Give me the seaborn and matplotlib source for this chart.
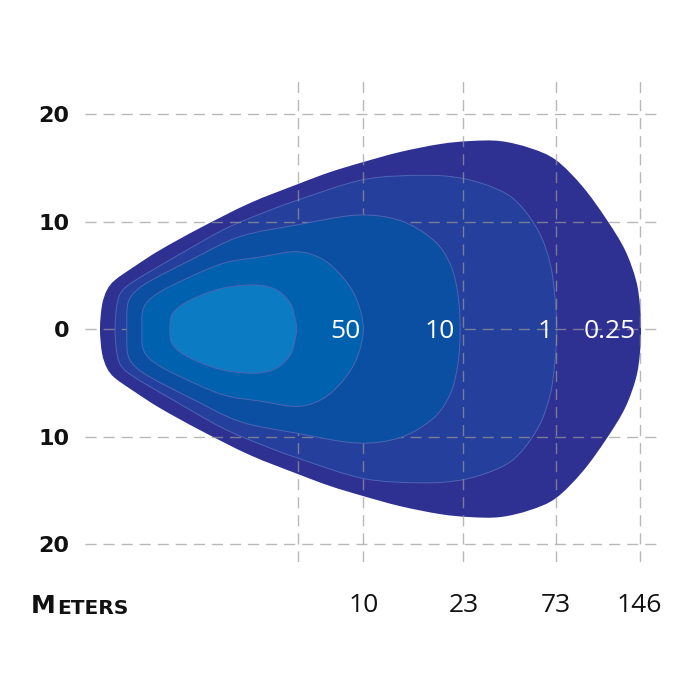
import numpy as np
import seaborn as sns
import matplotlib.pyplot as plt
from matplotlib.path import Path
from matplotlib.patches import PathPatch

# beam outlines: upper half, distance along axis (chart units) vs half-width (m)
lux_025_x = [0, 0.19, 0.65, 1.4, 3.26, 5.58, 9.3, 13.95, 18.42, 21.4, 24.47, 27.91, 31.63, 34.42,
             37.21, 40.0, 42.42, 44.93, 47.16, 48.84, 49.86, 50.23, 50.33]
lux_025_y = [0, 2.23, 3.63, 4.56, 5.86, 7.35, 9.4, 11.72, 13.49, 14.6, 15.53, 16.47, 17.21, 17.49,
             17.49, 16.84, 15.72, 13.21, 10.14, 7.35, 4.56, 2.23, 0]
lux_1_x = [1.4, 1.6, 2.1, 3.4, 6.8, 11.4, 14.9, 18.4, 24.5, 30.0, 33.8, 37.2, 39.1, 40.9, 41.9, 42.3, 42.5]
lux_1_y = [0, 2.4, 3.6, 4.6, 6.6, 9.2, 10.7, 12.0, 13.9, 14.3, 14.0, 12.9, 11.5, 8.9, 6.0, 3.2, 0]
lux_10_x = [2.5, 2.6, 3.4, 4.9, 8.4, 13.0, 18.4, 23.9, 27.9, 31.0, 32.6, 33.3, 33.5]
lux_10_y = [0, 2.4, 3.6, 4.6, 6.4, 8.6, 9.7, 10.6, 10.1, 8.3, 6.0, 3.2, 0]
lux_50_x = [3.9, 4.0, 4.9, 7.2, 11.4, 14.9, 18.3, 20.7, 22.6, 23.9, 24.5]
lux_50_y = [0, 1.8, 3.0, 4.3, 6.1, 6.7, 7.2, 6.5, 4.8, 2.7, 0]
core_x = [6.5, 6.8, 8.4, 11.4, 14.6, 16.5, 17.7, 18.1, 18.3]
core_y = [0, 1.5, 2.7, 3.8, 4.1, 3.6, 2.4, 1.2, 0]

zone_colors = ['#2e3192', '#243f9c', '#0a4fa1', '#0062ae', '#0b7bc3']
zone_labels = ['0.25', '1', '10', '50']
label_x = [47.4, 41.4, 31.6, 22.8]

grid_x = [18.4, 24.5, 33.8, 42.4, 50.2]
grid_x_labels = ['', '10', '23', '73', '146']
grid_y = [-20, -10, 0, 10, 20]
grid_y_labels = ['20', '10', '0', '10', '20']


def smooth_outline(hx, hy):
    # mirror the upper half and draw a closed Catmull-Rom curve through the points
    pts = np.array(list(zip(hx, hy)) + [(x, -y) for x, y in zip(hx[-2:0:-1], hy[-2:0:-1])])
    n = len(pts)
    verts = [pts[0]]
    codes = [Path.MOVETO]
    for i in range(n):
        p0, p1, p2, p3 = pts[i - 1], pts[i], pts[(i + 1) % n], pts[(i + 2) % n]
        verts += [p1 + (p2 - p0) / 6, p2 - (p3 - p1) / 6, p2]
        codes += [Path.CURVE4] * 3
    return Path(verts, codes)


sns.set_theme(style='white')
plt.rcParams['font.family'] = ['DejaVu Sans']

fig = plt.figure(figsize=(7, 7), dpi=100)
ax = fig.add_axes([0.1214, 0.1971, 0.8214, 0.6914])

zones = [(lux_025_x, lux_025_y), (lux_1_x, lux_1_y), (lux_10_x, lux_10_y),
         (lux_50_x, lux_50_y), (core_x, core_y)]
for i, (zx, zy) in enumerate(zones):
    path = smooth_outline(zx, zy)
    edge = '#4f64b4' if i > 0 else 'none'
    ax.add_patch(PathPatch(path, facecolor=zone_colors[i], edgecolor=edge, lw=0.7, zorder=1 + i))

for lx, lab in zip(label_x, zone_labels):
    ax.text(lx, -0.2, lab, color='white', fontsize=19, family='Open Sans',
            ha='center', va='center', zorder=10)

ax.set_xlim(-1.395, 52.09)
ax.set_ylim(-21.67, 23.35)
ax.set_xticks(grid_x)
ax.set_xticklabels(grid_x_labels, family='Open Sans', fontsize=19, color='#111111')
ax.set_yticks(grid_y)
ax.set_yticklabels(grid_y_labels, fontweight='bold', fontsize=16, color='#111111')
ax.tick_params(axis='x', length=0, pad=22)
ax.tick_params(axis='y', length=0, pad=11)
sns.despine(ax=ax, left=True, bottom=True)
ax.set_axisbelow(False)
ax.grid(True, color='#9a9a9a', alpha=0.7, lw=1, linestyle=(0, (8, 5)))
for gl in ax.get_xgridlines() + ax.get_ygridlines():
    gl.set_zorder(8)

m = fig.text(31 / 700, 1 - 613 / 700, 'M', fontsize=18, fontweight='bold',
             ha='left', va='baseline', color='#111111')
ax.annotate('ETERS', xy=(1, 0), xycoords=m, xytext=(1, 0), textcoords='offset points',
            fontsize=14.5, fontweight='bold', ha='left', va='bottom', color='#111111')

fig.savefig('out.png', dpi=100, facecolor='white')
